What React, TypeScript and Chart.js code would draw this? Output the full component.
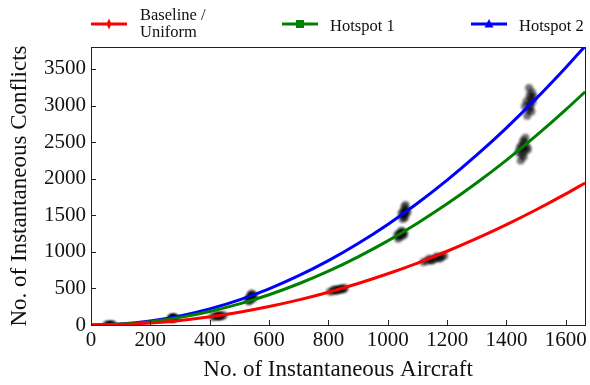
import React, { useEffect, useRef } from 'react';
import { Chart, registerables } from 'chart.js';
Chart.register(...registerables);

// Fitted curves at these aircraft counts
const aircraftGrid = [0, 100, 200, 300, 400, 500, 600, 700, 800, 900, 1000, 1100, 1200, 1300, 1400, 1500, 1600, 1665];
const baselineFit = [0, 7, 28, 63, 112, 175, 252, 343, 448, 567, 700, 847, 1008, 1183, 1372, 1575, 1792, 1941];
const hotspot1Fit = [0, 12, 46, 104, 184, 288, 414, 564, 736, 932, 1150, 1392, 1656, 1944, 2254, 2588, 2944, 3188];
const hotspot2Fit = [0, 14, 55, 124, 220, 344, 495, 674, 880, 1114, 1375, 1664, 1980, 2324, 2695, 3094, 3520, 3812];

// Simulation samples (black clouds), [aircraft, conflicts]
const simulatedRuns: [number, number][] = [
  [52, 2], [58, 4], [62, 1], [66, 5], [70, 3], [74, 2],
  [268, 85], [272, 92], [276, 98], [280, 94], [284, 100], [278, 88], [274, 104],
  [410, 112], [418, 116], [425, 120], [432, 124], [440, 128], [447, 132], [436, 118], [428, 130],
  [532, 320], [536, 345], [540, 370], [544, 395], [538, 410], [546, 360], [542, 430], [534, 380], [548, 400], [530, 350],
  [805, 455], [815, 465], [825, 475], [835, 485], [845, 495], [855, 505], [830, 470], [840, 492], [820, 485], [850, 490],
  [1035, 1180], [1040, 1210], [1045, 1240], [1050, 1270], [1038, 1250], [1052, 1220], [1046, 1290], [1032, 1230], [1056, 1250],
  [1050, 1450], [1054, 1490], [1058, 1530], [1062, 1570], [1056, 1610], [1060, 1640], [1052, 1550], [1046, 1520], [1066, 1540], [1058, 1470],
  [1120, 860], [1132, 875], [1145, 890], [1158, 905], [1170, 920], [1182, 935], [1190, 945], [1150, 880], [1140, 905], [1165, 935], [1176, 910],
  [1448, 2250], [1452, 2330], [1456, 2410], [1460, 2490], [1464, 2560], [1450, 2450], [1462, 2380], [1445, 2420], [1468, 2440], [1440, 2360], [1472, 2400], [1456, 2520], [1458, 2300],
  [1470, 2860], [1474, 2940], [1478, 3020], [1482, 3100], [1486, 3180], [1476, 3240], [1480, 2980], [1468, 3060], [1488, 3050], [1462, 2990], [1492, 3120], [1478, 3140], [1484, 2920],
];

const seriesNames = ['Baseline / Uniform', 'Hotspot 1', 'Hotspot 2'];
const seriesColors = ['#ff0000', '#008000', '#0000ff'];
const xTickValues = [0, 200, 400, 600, 800, 1000, 1200, 1400, 1600];
const yTickValues = [0, 500, 1000, 1500, 2000, 2500, 3000, 3500];

const FONT = "'Liberation Serif', 'DejaVu Serif', serif";
const INK = '#111111';

const blurPlugin = {
  id: 'blurCloud',
  beforeDatasetDraw(chart: any, args: any) {
    if (args.meta.type === 'scatter') {
      chart.ctx.save();
      chart.ctx.filter = 'blur(1px)';
    }
  },
  afterDatasetDraw(chart: any, args: any) {
    if (args.meta.type === 'scatter') chart.ctx.restore();
  },
};

const framePlugin = {
  id: 'frameTicks',
  afterDraw(chart: any) {
    const { ctx, chartArea } = chart;
    const { left, right, top, bottom } = chartArea;
    const xs = chart.scales.x;
    const ys = chart.scales.y;
    ctx.save();
    ctx.strokeStyle = '#222';
    ctx.lineWidth = 1;
    xTickValues.forEach((v) => {
      const px = Math.round(xs.getPixelForValue(v)) + 0.5;
      ctx.beginPath();
      ctx.moveTo(px, bottom);
      ctx.lineTo(px, bottom - 5);
      ctx.stroke();
    });
    yTickValues.forEach((v) => {
      const py = Math.round(ys.getPixelForValue(v)) + 0.5;
      ctx.beginPath();
      ctx.moveTo(left, py);
      ctx.lineTo(left + 5, py);
      ctx.stroke();
    });
    ctx.strokeRect(Math.round(left) + 0.5, Math.round(top) + 0.5, Math.round(right - left), Math.round(bottom - top));
    ctx.restore();
  },
};

const legendPlugin = {
  id: 'customLegend',
  afterDraw(chart: any) {
    const { ctx } = chart;
    ctx.save();
    const lineY = 24;
    const items = [
      { x: 91, textX: 140, marker: 'diamond' },
      { x: 282, textX: 330, marker: 'square' },
      { x: 471, textX: 519, marker: 'triangle' },
    ];
    items.forEach((it, i) => {
      const c = seriesColors[i];
      ctx.strokeStyle = c;
      ctx.fillStyle = c;
      ctx.lineWidth = 3;
      ctx.beginPath();
      ctx.moveTo(it.x, lineY);
      ctx.lineTo(it.x + 36, lineY);
      ctx.stroke();
      const mx = it.x + 18;
      ctx.beginPath();
      if (it.marker === 'diamond') {
        ctx.moveTo(mx, lineY - 5.5);
        ctx.lineTo(mx + 2.5, lineY);
        ctx.lineTo(mx, lineY + 5.5);
        ctx.lineTo(mx - 2.5, lineY);
      } else if (it.marker === 'square') {
        ctx.rect(mx - 4, lineY - 4, 8, 8);
      } else {
        ctx.moveTo(mx, lineY - 5);
        ctx.lineTo(mx + 4.5, lineY + 3.5);
        ctx.lineTo(mx - 4.5, lineY + 3.5);
      }
      ctx.closePath();
      ctx.fill();
      ctx.fillStyle = INK;
      ctx.font = `16.5px ${FONT}`;
      ctx.textBaseline = 'alphabetic';
      ctx.textAlign = 'left';
      if (i === 0) {
        ctx.fillText('Baseline /', it.textX, 20);
        ctx.fillText('Uniform', it.textX, 37);
      } else {
        ctx.fillText(seriesNames[i], it.textX, 31);
      }
    });
    ctx.restore();
  },
};

export default function App() {
  const ref = useRef<HTMLCanvasElement | null>(null);
  useEffect(() => {
    document.body.style.margin = '0';
    if (!ref.current) return;
    const fits = [baselineFit, hotspot1Fit, hotspot2Fit];
    const lineSets = fits.map((f, i) => ({
      type: 'line' as const,
      label: seriesNames[i],
      data: aircraftGrid.map((x, k) => ({ x, y: f[k] })),
      borderColor: seriesColors[i],
      backgroundColor: seriesColors[i],
      borderWidth: 3,
      pointRadius: 0,
      cubicInterpolationMode: 'monotone' as const,
      fill: false,
      order: 0,
    }));
    const chart = new Chart(ref.current, {
      type: 'scatter',
      data: {
        datasets: [
          ...lineSets,
          {
            type: 'scatter' as const,
            label: 'Simulation',
            data: simulatedRuns.map(([x, y]) => ({ x, y })),
            backgroundColor: 'rgba(0,0,0,0.55)',
            borderWidth: 0,
            pointRadius: 4,
            order: 1,
          },
        ] as any,
      },
      options: {
        animation: false,
        responsive: false,
        layout: { padding: { top: 47, right: 4, left: 0, bottom: 0 } },
        plugins: { legend: { display: false }, tooltip: { enabled: false } },
        scales: {
          x: {
            type: 'linear',
            min: 0,
            max: 1665,
            grid: { display: false, drawTicks: false },
            border: { display: false },
            ticks: {
              font: { family: FONT, size: 21 },
              color: INK,
              padding: 3,
              maxRotation: 0,
              autoSkip: false,
              callback: (v: any) => String(v),
            },
            afterBuildTicks: (s: any) => { s.ticks = xTickValues.map((value) => ({ value })); },
            title: {
              display: true,
              text: 'No. of Instantaneous Aircraft',
              font: { family: FONT, size: 23 },
              color: INK,
              padding: { top: 0, bottom: 1 },
            },
            afterFit: (s: any) => { s.height = 60; },
          },
          y: {
            type: 'linear',
            min: 0,
            max: 3800,
            grid: { display: false, drawTicks: false },
            border: { display: false },
            ticks: {
              font: { family: FONT, size: 21 },
              color: INK,
              padding: 5,
              autoSkip: false,
              callback: (v: any) => String(v),
            },
            afterBuildTicks: (s: any) => { s.ticks = yTickValues.map((value) => ({ value })); },
            title: {
              display: true,
              text: 'No. of Instantaneous Conflicts',
              font: { family: FONT, size: 23 },
              color: INK,
              padding: { top: 6, bottom: 0 },
            },
            afterFit: (s: any) => { s.width = 91; },
          },
        },
      },
      plugins: [blurPlugin, framePlugin, legendPlugin],
    });
    return () => chart.destroy();
  }, []);
  return <canvas ref={ref} width={590} height={385} />;
}
